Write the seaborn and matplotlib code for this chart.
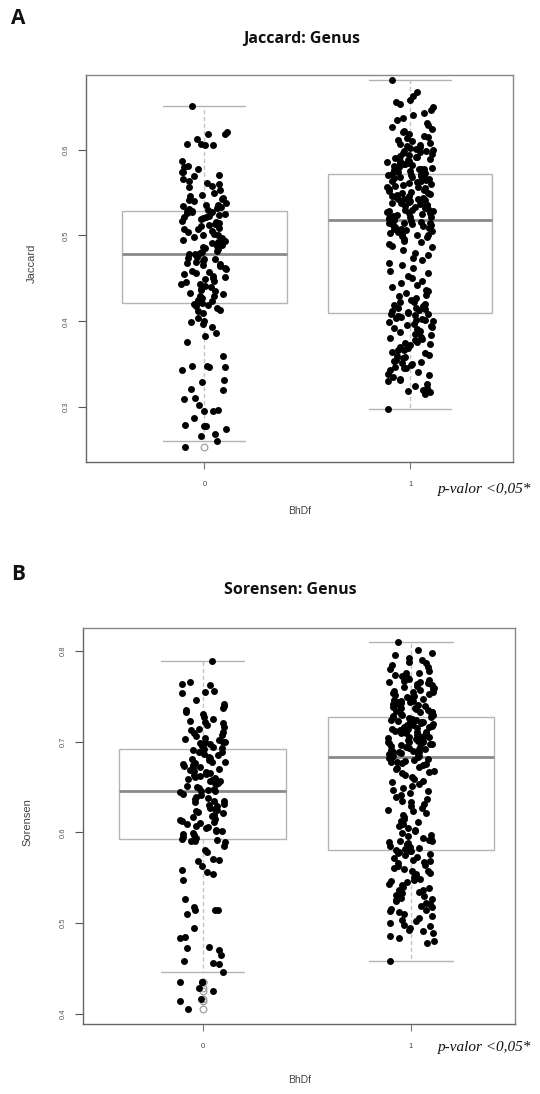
import numpy as np
import pandas as pd
import matplotlib
matplotlib.use("Agg")
import matplotlib.pyplot as plt
import seaborn as sns

# ---------------- data ----------------
groups = ["0", "1"]

jaccard_0 = [
    0.254, 0.261, 0.266, 0.269, 0.274, 0.278, 0.278, 0.279, 0.287, 0.295,
    0.296, 0.297, 0.303, 0.310, 0.311, 0.320, 0.321, 0.329, 0.331, 0.343,
    0.347, 0.347, 0.348, 0.348, 0.360, 0.376, 0.383, 0.386, 0.393, 0.397,
    0.399, 0.400, 0.404, 0.410, 0.412, 0.413, 0.416, 0.418, 0.419, 0.420,
    0.421, 0.422, 0.424, 0.425, 0.427, 0.429, 0.430, 0.432, 0.433, 0.435,
    0.437, 0.438, 0.440, 0.441, 0.443, 0.444, 0.446, 0.447, 0.449, 0.450,
    0.452, 0.453, 0.455, 0.456, 0.458, 0.459, 0.461, 0.462, 0.464, 0.465,
    0.467, 0.468, 0.469, 0.470, 0.472, 0.473, 0.474, 0.475, 0.477, 0.478,
    0.478, 0.479, 0.481, 0.482, 0.484, 0.485, 0.486, 0.488, 0.489, 0.491,
    0.492, 0.494, 0.495, 0.497, 0.498, 0.500, 0.501, 0.502, 0.504, 0.505,
    0.507, 0.508, 0.509, 0.511, 0.512, 0.513, 0.515, 0.516, 0.517, 0.519,
    0.520, 0.521, 0.522, 0.523, 0.524, 0.525, 0.526, 0.527, 0.527, 0.528,
    0.529, 0.530, 0.531, 0.532, 0.533, 0.534, 0.536, 0.536, 0.538, 0.540,
    0.541, 0.543, 0.544, 0.546, 0.547, 0.550, 0.553, 0.557, 0.558, 0.560,
    0.561, 0.564, 0.566, 0.569, 0.571, 0.574, 0.574, 0.578, 0.580, 0.581,
    0.587, 0.605, 0.606, 0.607, 0.607, 0.612, 0.618, 0.618, 0.620, 0.651,
]

jaccard_1 = [
    0.298, 0.315, 0.317, 0.319, 0.320, 0.322, 0.325, 0.327, 0.330, 0.331,
    0.333, 0.335, 0.337, 0.339, 0.341, 0.343, 0.345, 0.346, 0.347, 0.349,
    0.350, 0.351, 0.352, 0.354, 0.355, 0.357, 0.358, 0.360, 0.361, 0.363,
    0.364, 0.366, 0.367, 0.369, 0.370, 0.372, 0.373, 0.375, 0.376, 0.378,
    0.379, 0.381, 0.382, 0.384, 0.385, 0.387, 0.388, 0.389, 0.391, 0.392,
    0.393, 0.395, 0.396, 0.397, 0.399, 0.400, 0.401, 0.402, 0.403, 0.404,
    0.405, 0.406, 0.407, 0.408, 0.409,
    0.410, 0.411, 0.412, 0.413, 0.414, 0.415, 0.416, 0.418, 0.419, 0.420,
    0.422, 0.423, 0.425, 0.427, 0.429, 0.431, 0.433, 0.435, 0.437, 0.440,
    0.442, 0.445, 0.447, 0.450, 0.453, 0.456, 0.459, 0.462, 0.465, 0.468,
    0.471, 0.474, 0.477, 0.480, 0.483, 0.486, 0.488, 0.490, 0.492, 0.494,
    0.496, 0.498, 0.499, 0.500, 0.501, 0.502, 0.503, 0.504, 0.505, 0.506,
    0.507, 0.508, 0.509, 0.510, 0.511, 0.512, 0.512, 0.513, 0.514, 0.515,
    0.515, 0.516, 0.517, 0.517, 0.518,
    0.518, 0.519, 0.519, 0.520, 0.521, 0.522, 0.522, 0.523, 0.524, 0.525,
    0.526, 0.526, 0.527, 0.528, 0.529, 0.530, 0.530, 0.531, 0.532, 0.533,
    0.534, 0.534, 0.535, 0.536, 0.537, 0.538, 0.538, 0.539, 0.540, 0.541,
    0.542, 0.542, 0.543, 0.544, 0.545, 0.546, 0.546, 0.547, 0.548, 0.549,
    0.550, 0.551, 0.552, 0.553, 0.554, 0.555, 0.556, 0.557, 0.558, 0.559,
    0.560, 0.561, 0.562, 0.563, 0.564, 0.565, 0.566, 0.567, 0.568, 0.568,
    0.569, 0.570, 0.570, 0.571, 0.572,
    0.572, 0.573, 0.574, 0.574, 0.575, 0.576, 0.577, 0.577, 0.578, 0.579,
    0.580, 0.580, 0.581, 0.582, 0.583, 0.583, 0.584, 0.585, 0.586, 0.587,
    0.587, 0.588, 0.589, 0.590, 0.591, 0.592, 0.593, 0.594, 0.595, 0.596,
    0.597, 0.598, 0.599, 0.600, 0.601, 0.602, 0.603, 0.604, 0.605, 0.607,
    0.608, 0.610, 0.611, 0.613, 0.615, 0.616, 0.618, 0.620, 0.622, 0.624,
    0.626, 0.629, 0.631, 0.634, 0.637, 0.640, 0.643, 0.646, 0.650, 0.653,
    0.655, 0.658, 0.662, 0.667, 0.681,
]

sorensen_0 = [
    0.405, 0.414, 0.417, 0.425, 0.429, 0.435, 0.435, 0.435, 0.446, 0.455,
    0.456, 0.458, 0.465, 0.471, 0.473, 0.474, 0.484, 0.485, 0.495, 0.510,
    0.515, 0.515, 0.515, 0.518, 0.527, 0.547, 0.554, 0.556, 0.559, 0.563,
    0.569, 0.570, 0.571, 0.578, 0.581, 0.585, 0.589, 0.590, 0.591, 0.592,
    0.593, 0.594, 0.595, 0.597, 0.598, 0.599, 0.601, 0.602, 0.603, 0.605,
    0.606, 0.607, 0.609, 0.610, 0.611, 0.613, 0.614, 0.615, 0.617, 0.618,
    0.619, 0.621, 0.622, 0.623, 0.625, 0.626, 0.627, 0.629, 0.630, 0.631,
    0.633, 0.634, 0.635, 0.637, 0.638, 0.639, 0.641, 0.642, 0.644, 0.646,
    0.646, 0.647, 0.648, 0.649, 0.650, 0.651, 0.653, 0.654, 0.655, 0.656,
    0.657, 0.658, 0.659, 0.660, 0.661, 0.662, 0.663, 0.664, 0.665, 0.667,
    0.668, 0.669, 0.670, 0.671, 0.672, 0.673, 0.674, 0.675, 0.676, 0.677,
    0.678, 0.680, 0.681, 0.682, 0.683, 0.685, 0.686, 0.688, 0.689, 0.691,
    0.692, 0.693, 0.694, 0.695, 0.696, 0.697, 0.698, 0.699, 0.700, 0.700,
    0.702, 0.703, 0.704, 0.706, 0.707, 0.709, 0.711, 0.713, 0.714, 0.716,
    0.718, 0.720, 0.722, 0.723, 0.725, 0.727, 0.730, 0.733, 0.735, 0.737,
    0.739, 0.741, 0.746, 0.753, 0.755, 0.756, 0.762, 0.763, 0.765, 0.789,
]

sorensen_1 = [
    0.458, 0.478, 0.480, 0.484, 0.486, 0.489, 0.491, 0.493, 0.495, 0.497,
    0.498, 0.500, 0.502, 0.504, 0.506, 0.508, 0.510, 0.512, 0.513, 0.515,
    0.516, 0.518, 0.519, 0.521, 0.522, 0.524, 0.525, 0.527, 0.528, 0.530,
    0.531, 0.533, 0.534, 0.536, 0.537, 0.539, 0.540, 0.542, 0.543, 0.545,
    0.546, 0.548, 0.549, 0.551, 0.552, 0.554, 0.555, 0.557, 0.558, 0.560,
    0.561, 0.563, 0.564, 0.566, 0.567, 0.569, 0.570, 0.572, 0.573, 0.575,
    0.576, 0.577, 0.578, 0.579, 0.580,
    0.581, 0.582, 0.583, 0.584, 0.585, 0.586, 0.587, 0.588, 0.589, 0.590,
    0.591, 0.592, 0.593, 0.594, 0.596, 0.597, 0.599, 0.601, 0.603, 0.605,
    0.607, 0.609, 0.611, 0.613, 0.615, 0.617, 0.619, 0.621, 0.623, 0.625,
    0.627, 0.629, 0.631, 0.633, 0.635, 0.637, 0.639, 0.641, 0.643, 0.645,
    0.647, 0.649, 0.651, 0.653, 0.655, 0.657, 0.659, 0.661, 0.663, 0.665,
    0.667, 0.668, 0.670, 0.671, 0.672, 0.674, 0.675, 0.676, 0.677, 0.678,
    0.679, 0.680, 0.681, 0.682, 0.683,
    0.683, 0.684, 0.684, 0.685, 0.686, 0.686, 0.687, 0.688, 0.688, 0.689,
    0.690, 0.690, 0.691, 0.692, 0.692, 0.693, 0.694, 0.694, 0.695, 0.696,
    0.697, 0.697, 0.698, 0.699, 0.699, 0.700, 0.701, 0.701, 0.702, 0.703,
    0.703, 0.704, 0.705, 0.705, 0.706, 0.707, 0.707, 0.708, 0.709, 0.709,
    0.710, 0.711, 0.712, 0.712, 0.713, 0.714, 0.714, 0.715, 0.716, 0.716,
    0.717, 0.718, 0.718, 0.719, 0.720, 0.720, 0.721, 0.722, 0.722, 0.723,
    0.724, 0.724, 0.725, 0.726, 0.727,
    0.727, 0.728, 0.729, 0.729, 0.730, 0.731, 0.732, 0.733, 0.733, 0.734,
    0.735, 0.736, 0.737, 0.737, 0.738, 0.739, 0.740, 0.741, 0.741, 0.742,
    0.743, 0.744, 0.745, 0.745, 0.746, 0.747, 0.748, 0.749, 0.750, 0.751,
    0.752, 0.753, 0.754, 0.755, 0.756, 0.757, 0.758, 0.759, 0.760, 0.761,
    0.762, 0.763, 0.764, 0.765, 0.766, 0.767, 0.768, 0.769, 0.770, 0.772,
    0.773, 0.775, 0.776, 0.778, 0.780, 0.782, 0.784, 0.786, 0.788, 0.790,
    0.792, 0.795, 0.797, 0.801, 0.810,
]

jaccard_ticks = [0.3, 0.4, 0.5, 0.6]
sorensen_ticks = [0.4, 0.5, 0.6, 0.7, 0.8]
x_name = "BhDf"
p_text = "p-valor <0,05*"

# ---------------- style ----------------
sns.set_theme(style="white")
plt.rcParams['font.family'] = ['Liberation Sans', 'DejaVu Sans']

W, H = 540, 1094
fig = plt.figure(figsize=(W / 100, H / 100), dpi=100)
fig.patch.set_facecolor("white")


def px_rect(left, top, right, bottom):
    return [left / W, 1 - bottom / H, (right - left) / W, (bottom - top) / H]


def panel(rect, v0, v1, yname, ticks, ylim, seed):
    ax = fig.add_axes(rect)
    df = pd.DataFrame({
        x_name: [groups[0]] * len(v0) + [groups[1]] * len(v1),
        yname: list(v0) + list(v1),
    })
    sns.boxplot(
        data=df, x=x_name, y=yname, order=groups, ax=ax,
        width=0.8, color="white", linecolor="#b4b4b4", linewidth=1.0,
        whis=1.5,
        medianprops=dict(color="#8a8a8a", linewidth=2.0),
        whiskerprops=dict(color="#c4c4c4", linestyle=(0, (3, 2)), linewidth=1.0),
        capprops=dict(color="#b4b4b4", linewidth=1.0),
        flierprops=dict(marker="o", markersize=4.8, markerfacecolor="none",
                        markeredgecolor="#a0a0a0", markeredgewidth=0.9),
    )
    np.random.seed(seed)
    sns.stripplot(
        data=df, x=x_name, y=yname, order=groups, ax=ax,
        color="black", size=5.0, jitter=0.112, linewidth=0, zorder=3,
    )
    ax.set_xlim(-0.575, 1.5)
    ax.set_ylim(*ylim)
    ax.set_yticks(ticks)
    ax.set_yticklabels([f"{t:.1f}" for t in ticks], rotation=90, va="center")
    ax.tick_params(axis="y", left=True, length=6, width=0.8, color="#555555",
                   pad=6, labelsize=5.5, labelcolor="#555555")
    ax.tick_params(axis="x", bottom=True, length=5, width=0.8, color="#777777",
                   pad=9, labelsize=5.5, labelcolor="#444444")
    ax.set_xlabel("")
    ax.set_ylabel("")
    for side, sp in ax.spines.items():
        sp.set_visible(True)
        sp.set_linewidth(1.0)
        sp.set_color("#666666" if side in ("left", "bottom") else "#888888")
    return ax


# Panel A
axA = panel(px_rect(86, 75, 513, 462), jaccard_0, jaccard_1, "Jaccard",
            jaccard_ticks, (0.236, 0.687), 7)
# Panel B
axB = panel(px_rect(83, 628, 515, 1024), sorensen_0, sorensen_1, "Sorensen",
            sorensen_ticks, (0.389, 0.825), 11)

def ftext(x, y, s, **kw):
    fig.text(x / W, 1 - y / H, s, **kw)

title_kw = dict(ha="center", va="center", fontsize=11.5, fontweight="bold",
                family=["Open Sans", "DejaVu Sans"], color="#111111")
ftext(302, 39, "Jaccard: Genus", **title_kw)
ftext(290, 590, "Sorensen: Genus", **title_kw)

letter_kw = dict(ha="left", va="center", fontsize=15, fontweight="bold",
                 family=["Open Sans", "DejaVu Sans"], color="#111111")
ftext(11, 19, "A", **letter_kw)
ftext(11, 574, "B", **letter_kw)

ylab_kw = dict(ha="center", va="center", rotation=90, fontsize=8, color="#444444")
ftext(32, 263, "Jaccard", **ylab_kw)
ftext(27, 822, "Sorensen", **ylab_kw)

xlab_kw = dict(ha="center", va="center", fontsize=7.5, color="#444444")
ftext(300, 511, x_name, **xlab_kw)
ftext(300, 1080, x_name, **xlab_kw)

p_kw = dict(ha="left", va="center", fontsize=11, style="italic",
            family=["Liberation Serif", "DejaVu Serif"], color="#111111")
ftext(438, 489, p_text, **p_kw)
ftext(438, 1048, p_text, **p_kw)

fig.savefig("out.png", dpi=100, facecolor="white")
